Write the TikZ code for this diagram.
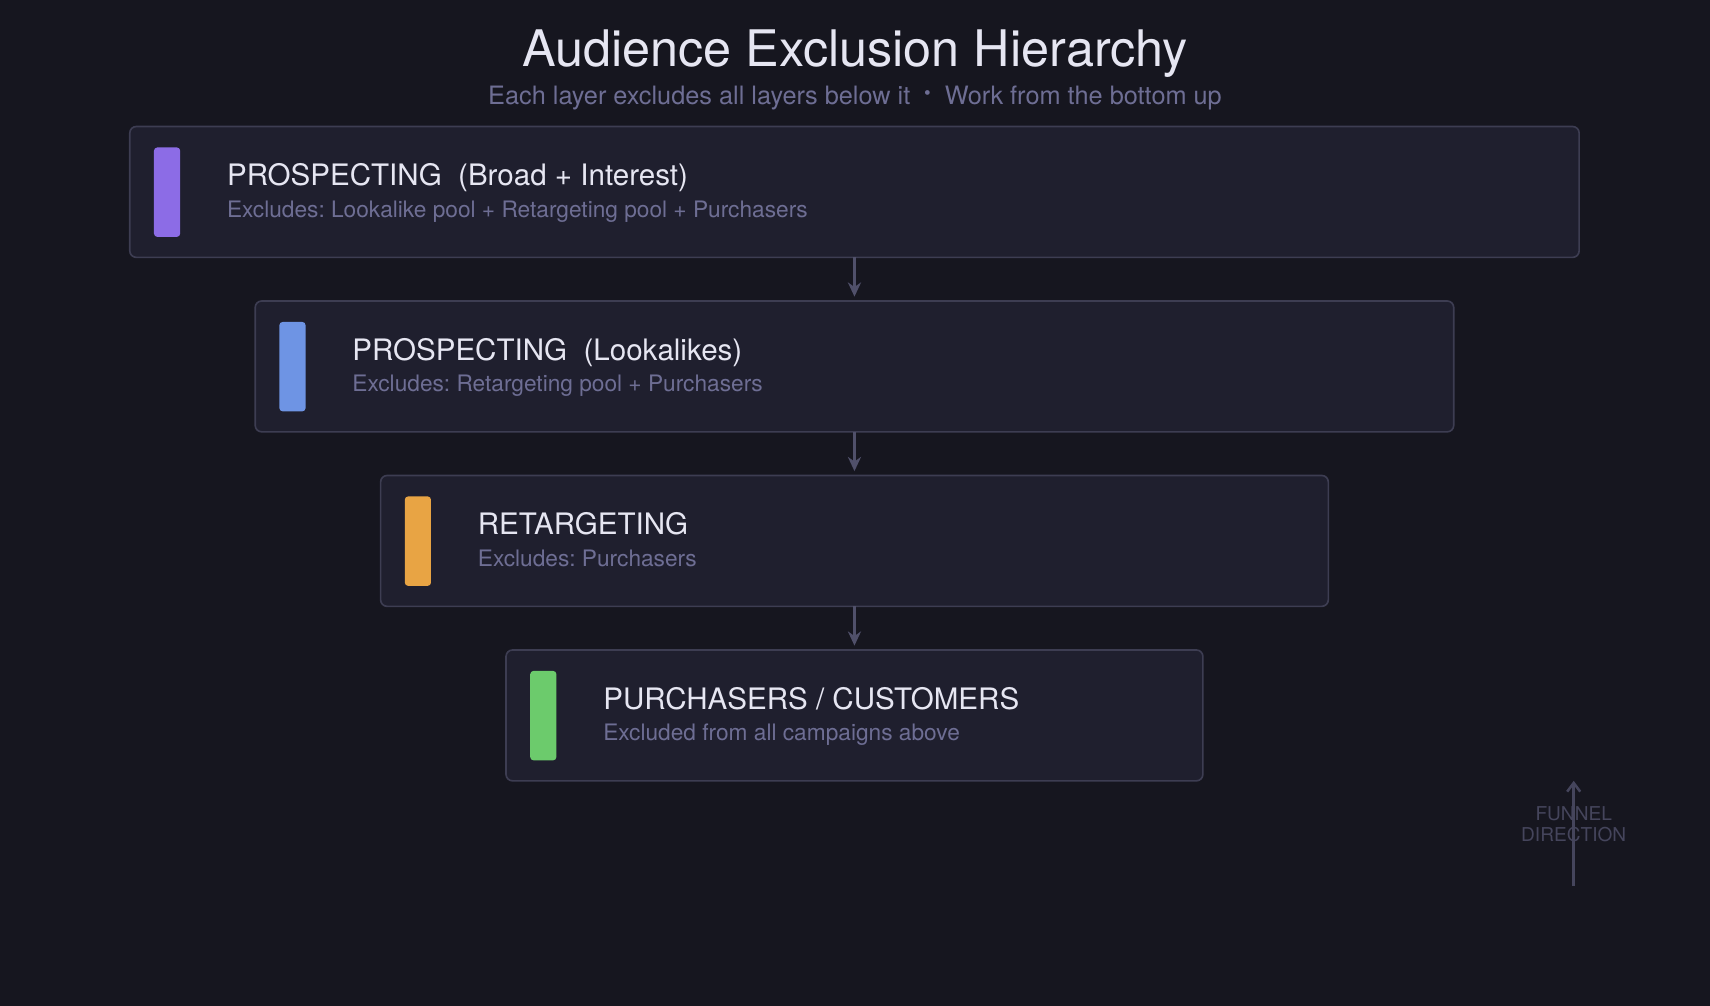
\documentclass[tikz,border=0pt]{standalone}
\usepackage{fontspec}
\setmainfont{TeX Gyre Heros}
\usetikzlibrary{arrows.meta}
\frenchspacing
\definecolor{bgc}{HTML}{16161F}
\definecolor{boxfill}{HTML}{1F1F2E}
\definecolor{boxline}{HTML}{3D3D52}
\definecolor{titlec}{HTML}{E6E6F2}
\definecolor{subc}{HTML}{6E6E94}
\definecolor{arrc}{HTML}{50506A}
\definecolor{func}{HTML}{45455C}
\definecolor{cpurple}{HTML}{8C6CE6}
\definecolor{cblue}{HTML}{6E94E4}
\definecolor{corange}{HTML}{E8A444}
\definecolor{cgreen}{HTML}{6CCB6C}
\tikzset{
  layerbox/.style={draw=boxline, line width=1.5pt, fill=boxfill, rounded corners=6pt,
    minimum height=120pt, inner sep=0pt, outer sep=0pt},
  accent/.style={rounded corners=3pt, minimum width=24pt, minimum height=82pt,
    inner sep=0pt, anchor=north west},
  ltitle/.style={anchor=base west, inner sep=0pt, text=titlec, font=\fontsize{27.1}{32}\selectfont},
  lsub/.style={anchor=base west, inner sep=0pt, text=subc, font=\fontsize{20.8}{24}\selectfont},
  flow/.style={draw=arrc, line width=2.8pt, -{Stealth[length=13pt,width=12pt]}, shorten >=4pt},
  funtext/.style={anchor=base, inner sep=0pt, text=func, font=\fontsize{17.5}{20}\selectfont}
}
\begin{document}
\begin{tikzpicture}[x=1pt,y=-1pt]
\fill[bgc] (0,0) rectangle (1568,922.4);
\useasboundingbox (0,0) rectangle (1568,922.4);

\node[anchor=base, inner sep=0pt, text=titlec, font=\fontsize{46.2}{54}\selectfont] (title) at (784,61) {Audience Exclusion Hierarchy};
\node[anchor=base, inner sep=0pt, text=subc, font=\fontsize{23.2}{26}\selectfont] (subtitle) at (784,95.5) {Each layer excludes all layers below it\hspace{0.55em}\raisebox{0.18em}{\scalebox{0.75}{\textbullet}}\hspace{0.55em}Work from the bottom up};

% layer boxes
\node[layerbox, minimum width=1329pt] (b1) at (783.5,176) {};
\node[layerbox, minimum width=1099pt] (b2) at (783.5,336) {};
\node[layerbox, minimum width=869pt] (b3) at (783.5,496) {};
\node[layerbox, minimum width=639pt] (b4) at (783.5,656) {};

% accent bars
\node[accent, fill=cpurple] (a1) at (141,135) {};
\node[accent, fill=cblue] (a2) at (256,295) {};
\node[accent, fill=corange] (a3) at (371,455) {};
\node[accent, fill=cgreen] (a4) at (486,615) {};

% labels
\node[ltitle] (t1) at (208,170.5) {PROSPECTING\ \ (Broad + Interest)};
\node[lsub] (s1) at (208,199.3) {Excludes: Lookalike pool + Retargeting pool + Purchasers};
\node[ltitle] (t2) at (323,330.5) {PROSPECTING\ \ (Lookalikes)};
\node[lsub] (s2) at (323,359.3) {Excludes: Retargeting pool + Purchasers};
\node[ltitle] (t3) at (438,490.5) {RETARGETING};
\node[lsub] (s3) at (438,519.3) {Excludes: Purchasers};
\node[ltitle] (t4) at (553,650.5) {PURCHASERS / CUSTOMERS};
\node[lsub] (s4) at (553,679.3) {Excluded from all campaigns above};

% connectors
\draw[flow] (b1.south) -- (b2.north);
\draw[flow] (b2.south) -- (b3.north);
\draw[flow] (b3.south) -- (b4.north);

% funnel direction
\node[funtext] (f1) at (1443,752) {FUNNEL};
\node[funtext] (f2) at (1443,772) {DIRECTION};
\coordinate (fstart) at (1443,812);
\coordinate (fend) at (1443,716);
\draw[draw=func, line width=2.3pt, -{Straight Barb[length=8pt,width=12pt,line width=2.3pt]}] (fstart) -- (fend);
\end{tikzpicture}
\end{document}
